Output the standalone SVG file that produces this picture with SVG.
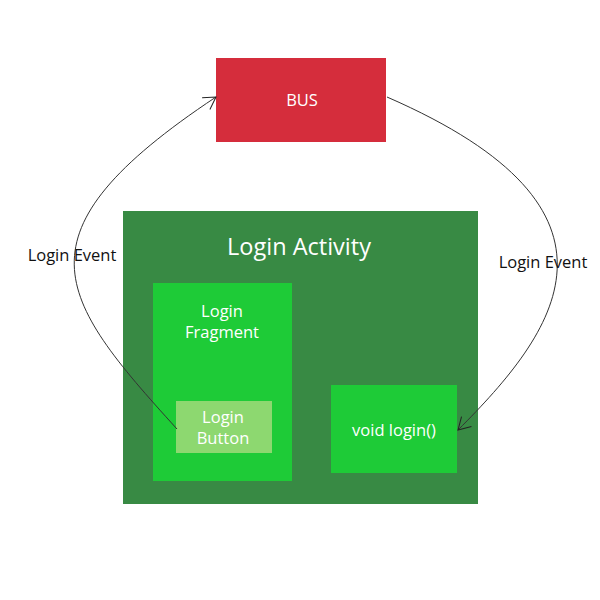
<svg xmlns="http://www.w3.org/2000/svg" width="600" height="600" viewBox="0 0 600 600">
<style>
text{font-family:"Open Sans","Noto Sans","Liberation Sans",sans-serif;font-size:16.5px;text-anchor:middle}
.w{fill:#ffffff}
.k{fill:#111111}
.edge{fill:none;stroke:#333333;stroke-width:1}
</style>
<defs>
<marker id="arr" markerWidth="16" markerHeight="16" refX="13" refY="8" orient="auto" markerUnits="userSpaceOnUse">
<path d="M1,1 L13,8 L1,15" fill="none" stroke="#222222" stroke-width="1"/>
</marker>
</defs>
<rect width="600" height="600" fill="#ffffff"/>
<g id="bus">
<rect x="216" y="58" width="170" height="84" fill="#d52d3c"/>
<text class="w" x="302" y="106">BUS</text>
</g>
<g id="login-activity">
<rect x="123" y="211" width="355" height="293" fill="#388a44"/>
<text class="w" x="299" y="255" style="font-size:23.5px">Login Activity</text>
</g>
<g id="login-fragment">
<rect x="153" y="283" width="139" height="198" fill="#1ecb37"/>
<text class="w" x="222" y="317">Login</text>
<text class="w" x="222" y="338">Fragment</text>
</g>
<g id="login-button">
<rect x="176" y="401" width="96" height="52" fill="#8dd870"/>
<text class="w" x="223" y="423">Login</text>
<text class="w" x="223" y="444">Button</text>
</g>
<g id="void-login">
<rect x="331" y="385" width="126" height="88" fill="#1ecb37"/>
<text class="w" x="394" y="436">void login()</text>
</g>
<g id="connectors">
<path class="edge" d="M177,429 C57,297 10,234 216,97" marker-end="url(#arr)"/>
<path class="edge" d="M387,97 C649,211 555,333 458,430" marker-end="url(#arr)"/>
<text class="k" x="72" y="261">Login Event</text>
<text class="k" x="543" y="268">Login Event</text>
</g>
</svg>
